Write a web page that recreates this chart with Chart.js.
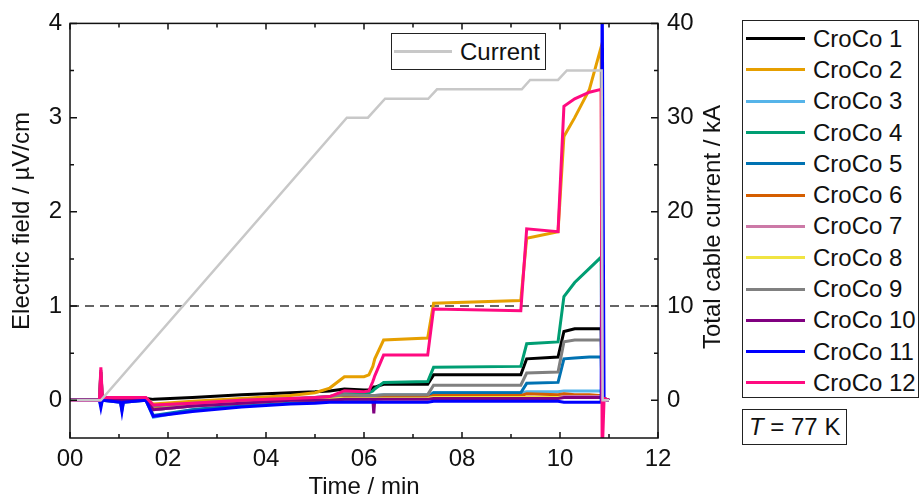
<!DOCTYPE html>
<html>
<head>
<meta charset="utf-8">
<script src="https://cdn.jsdelivr.net/npm/chart.js@4"></script>
<style>
  body { margin: 0; background: #fff; font-family: "Liberation Sans", Arial, sans-serif; }
  #wrap { position: relative; width: 922px; height: 500px; }
  #legend-container {
    position: absolute; left: 742px; top: 20px; width: 177px; height: 378px;
    border: 1.5px solid #222; background: #fff; box-sizing: border-box; padding-top: 2px;
  }
  #legend-container div { display: flex; align-items: center; height: 31.3px; }
  #legend-container span.ln { display: inline-block; width: 59px; height: 3px; margin-left: 3px; margin-right: 8px; }
  #legend-container label, .box label { font-size: 24px; color: #111; white-space: nowrap; }
  .box { position: absolute; border: 1.5px solid #222; background: #fff; box-sizing: border-box; display: flex; align-items: center; }
  #current-box { left: 391px; top: 33px; width: 155px; height: 37px; }
  #current-box span.ln { display: inline-block; width: 58px; height: 3px; margin-left: 2px; margin-right: 8px; }
  #temp-box { left: 742px; top: 409px; width: 105px; height: 36px; padding-left: 6px; }
</style>
</head>
<body>
<div id="wrap">
  <canvas id="myChart"></canvas>
  <div id="legend-container"></div>
  <div class="box" id="current-box"></div>
  <div class="box" id="temp-box"><label><i>T</i> = 77 K</label></div>
</div>
<script>
/* time axis in minutes, E-field in uV/cm, current in kA */
const TIME = [0, 0.6, 0.63, 0.66, 1.03, 1.06, 1.09, 1.55, 1.7, 2.5, 3.5, 4.5, 5.0, 5.3, 5.6, 6.0, 6.1,
              6.18, 6.2, 6.22, 6.4, 7.3, 7.42, 9.2, 9.32, 9.96, 10.08, 10.3, 10.6, 10.84, 10.86, 10.9, 11.0];

const CROCO_1  = [0,0,0.3,0.02,0.02,0.02,0.02,0.02,0.01,0.03,0.06,0.08,0.09,0.1,0.12,0.11,0.11,0.13,0.14,0.14,0.17,0.17,0.27,0.27,0.44,0.46,0.73,0.76,0.76,0.76,0.05,0.02,0];
const CROCO_2  = [0,0,0.05,0.02,0.02,0.02,0.02,0.02,-0.04,-0.01,0.02,0.05,0.08,0.13,0.25,0.25,0.27,0.36,0.4,0.44,0.64,0.66,1.03,1.06,1.72,1.79,2.8,3.0,3.3,3.75,0.05,0.02,0];
const CROCO_3  = [0,0,0,0,0,-0.04,0,0,-0.18,-0.1,-0.05,-0.02,0,0.01,0.03,0.03,0.04,0.05,0.05,0.05,0.06,0.06,0.08,0.08,0.09,0.09,0.1,0.1,0.1,0.1,0.02,0.01,0];
const CROCO_4  = [0,0,0.03,0.01,0.01,0.01,0.01,0.01,-0.1,-0.06,-0.02,0.01,0.03,0.04,0.07,0.07,0.08,0.1,0.11,0.12,0.19,0.2,0.35,0.36,0.6,0.62,1.1,1.25,1.4,1.52,0.05,0.02,0];
const CROCO_5  = [0,0,-0.05,0,-0.02,-0.1,-0.02,0,-0.16,-0.1,-0.05,-0.02,-0.01,0,0.01,0.01,0.01,0.01,0.01,0.01,0.02,0.02,0.08,0.08,0.18,0.19,0.44,0.45,0.46,0.46,0.02,0.01,0];
const CROCO_6  = [0,0,0,0,0,0,0,0,-0.08,-0.05,-0.02,0,0.01,0.02,0.03,0.03,0.03,0.03,0.03,0.03,0.03,0.03,0.05,0.05,0.07,0.06,0.07,0.06,0.06,0.05,0.02,0.01,0];
const CROCO_7  = [0,0,0.05,0,0,0,0,0,-0.1,-0.06,-0.03,0,0.01,0.01,0.02,0.02,0.02,0.02,0.02,0.02,0.02,0.02,0.03,0.03,0.03,0.03,0.04,0.04,0.04,0.04,0.03,0.01,0];
const CROCO_8  = [0,0,0,0,0,0,0,0,-0.06,-0.04,-0.01,0.01,0.01,0.02,0.02,0.02,0.02,0.02,0.02,0.02,0.02,0.02,0.03,0.03,0.03,0.03,0.03,0.03,0.03,0.03,0.01,0.01,0];
const CROCO_9  = [0,0,0.32,0.01,0.01,0.01,0.01,0.01,-0.06,-0.03,0,0.02,0.03,0.04,0.06,0.05,0.05,0.05,0.05,0.05,0.06,0.06,0.16,0.16,0.29,0.3,0.62,0.64,0.64,0.64,0.03,0.01,0];
const CROCO_10 = [0,0,0,0,0,0,0,0,-0.1,-0.06,-0.03,0,0,0,0.01,0.01,0.01,0.01,-0.14,0.01,0.01,0.01,0.02,0.02,0.02,0.02,0.03,0.03,0.03,0.03,0.04,0.01,0];
const CROCO_11 = [0,0,-0.08,0,-0.02,-0.12,-0.02,0,-0.17,-0.12,-0.07,-0.04,-0.03,-0.02,-0.02,-0.02,-0.02,-0.02,-0.02,-0.02,-0.02,-0.02,-0.01,-0.01,-0.01,-0.01,-0.02,-0.02,-0.02,-0.02,4.5,0.01,0];
const CROCO_12 = [0,0,0.35,0.03,0.03,0.03,0.03,0.03,-0.05,-0.03,0,0.02,0.03,0.04,0.1,0.09,0.1,0.2,0.23,0.26,0.48,0.48,0.97,0.95,1.82,1.79,3.12,3.2,3.27,3.3,-0.6,0.02,0];

const CUR_TIME = [0, 0.63, 5.65, 6.08, 6.43, 7.31, 7.49, 9.22, 9.39, 9.96, 10.14, 10.85, 10.87, 11.0];
const CUR_KA   = [0, 0, 30, 30, 32, 32, 33, 33, 34, 34, 35, 35, 0, 0];

const CRITERION = 1; // uV/cm

const X_TICKS  = [0, 2, 4, 6, 8, 10, 12];
const Y_TICKS  = [0, 1, 2, 3, 4];
const Y1_TICKS = [0, 10, 20, 30, 40];

const SERIES = [CROCO_1, CROCO_2, CROCO_3, CROCO_4, CROCO_5, CROCO_6, CROCO_7, CROCO_8, CROCO_9, CROCO_10, CROCO_11, CROCO_12];
const COLORS = ['#000000', '#E69F00', '#56B4E9', '#009E73', '#0072B2', '#D55E00',
                '#CC79A7', '#F0E442', '#808080', '#800080', '#0000FF', '#FF0A80'];

const FONT = { family: '"Liberation Sans", Arial, sans-serif', size: 24 };

const datasets = SERIES.map((vals, i) => ({
    label: 'CroCo ' + (i + 1),
    data: vals.map((v, k) => ({ x: TIME[k], y: v })),
    borderColor: COLORS[i],
    borderWidth: 3,
    yAxisID: 'y',
    order: 12 - i,
}));
datasets.push({
    label: 'Current',
    data: CUR_KA.map((v, k) => ({ x: CUR_TIME[k], y: v })),
    borderColor: '#c8c8c8',
    borderWidth: 2.5,
    yAxisID: 'y1',
    order: -1,
});
datasets.push({
    label: 'criterion',
    data: [{ x: 0, y: CRITERION }, { x: 12, y: CRITERION }],
    borderColor: '#333',
    borderWidth: 1.5,
    borderDash: [9, 6],
    yAxisID: 'y',
    order: 31,
});

function setTicks(list) {
    return (scale) => { scale.ticks = list.map(v => ({ value: v })); };
}

// frame, inward ticks and the two vertical axis titles
const framePlugin = {
    id: 'frame',
    afterDatasetsDraw(chart) {
        const { ctx, chartArea: a, scales } = chart;
        ctx.save();
        ctx.strokeStyle = '#111';
        ctx.lineWidth = 1.5;
        ctx.strokeRect(a.left, a.top, a.right - a.left, a.bottom - a.top);
        ctx.beginPath();
        for (let t = 0; t <= 12; t++) {
            const px = scales.x.getPixelForValue(t);
            const len = t % 2 ? 4 : 6;
            ctx.moveTo(px, a.bottom); ctx.lineTo(px, a.bottom - len);
            ctx.moveTo(px, a.top); ctx.lineTo(px, a.top + len);
        }
        for (let v = 0; v <= 4; v += 0.5) {
            const py = scales.y.getPixelForValue(v);
            ctx.moveTo(a.left, py); ctx.lineTo(a.left + (v % 1 ? 4 : 7), py);
        }
        for (let v = 0; v <= 40; v += 5) {
            const py = scales.y1.getPixelForValue(v);
            ctx.moveTo(a.right, py); ctx.lineTo(a.right - (v % 10 ? 4 : 7), py);
        }
        ctx.stroke();

        ctx.fillStyle = '#111';
        ctx.font = FONT.size + 'px ' + FONT.family;
        ctx.textAlign = 'center';
        ctx.textBaseline = 'middle';
        ctx.translate(22, 221);
        ctx.rotate(-Math.PI / 2);
        ctx.fillText('Electric field / \u00B5V/cm', 0, 0);
        ctx.rotate(Math.PI / 2);
        ctx.translate(713 - 22, 227 - 221);
        ctx.rotate(-Math.PI / 2);
        ctx.fillText('Total cable current / kA', 0, 0);
        ctx.restore();
    }
};

const options = {
    animation: false,
    responsive: true,
    maintainAspectRatio: false,
    layout: { padding: { top: 23, right: 192, left: 0, bottom: 0 } },
    elements: { point: { radius: 0 }, line: { tension: 0 } },
    plugins: { legend: { display: false }, tooltip: { enabled: false } },
    scales: {
        x: {
            type: 'linear', min: 0, max: 12,
            afterBuildTicks: setTicks(X_TICKS),
            afterFit: (s) => { s.height = 62; },
            grid: { display: false, drawTicks: false },
            border: { display: false },
            ticks: { font: FONT, color: '#111', padding: 7, maxRotation: 0,
                     callback: (v) => String(v).padStart(2, '0') },
            title: { display: true, text: 'Time / min', font: FONT, color: '#111', padding: { top: 0, bottom: -2 } },
        },
        y: {
            position: 'left', min: -0.4, max: 4,
            afterBuildTicks: setTicks(Y_TICKS),
            afterFit: (s) => { s.width = 70; },
            grid: { display: false, drawTicks: false },
            border: { display: false },
            ticks: { font: FONT, color: '#111', padding: 8 },
        },
        y1: {
            position: 'right', min: -4, max: 40,
            afterBuildTicks: setTicks(Y1_TICKS),
            afterFit: (s) => { s.width = 72; },
            grid: { display: false, drawTicks: false },
            border: { display: false },
            ticks: { font: FONT, color: '#111', padding: 9 },
        },
    },
};

const ctx = document.getElementById('myChart');
const myChart = new Chart(ctx, {
    type: 'line',
    data: { datasets },
    options,
    plugins: [framePlugin],
});

// html legends built from the datasets
function legendItem(dataset, parent) {
    const line = document.createElement('span');
    line.className = 'ln';
    line.style.backgroundColor = dataset.borderColor;
    const label = document.createElement('label');
    label.appendChild(document.createTextNode(dataset.label));
    parent.appendChild(line);
    parent.appendChild(label);
}
const legend = document.getElementById('legend-container');
myChart.data.datasets.slice(0, 12).forEach((dataset) => {
    const row = document.createElement('div');
    legendItem(dataset, row);
    legend.appendChild(row);
});
legendItem(myChart.data.datasets[12], document.getElementById('current-box'));
</script>
</body>
</html>
